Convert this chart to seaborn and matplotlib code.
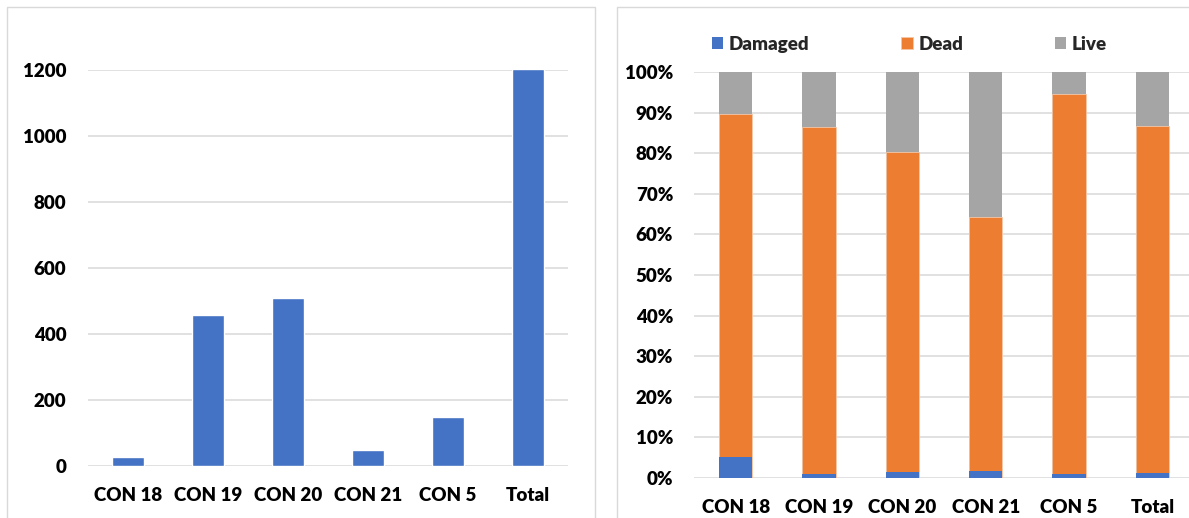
import matplotlib
matplotlib.use("Agg")
import matplotlib.pyplot as plt
from matplotlib.patches import Rectangle
from matplotlib.ticker import PercentFormatter
import numpy as np
import pandas as pd
import seaborn as sns

# Sites and counts
categories = ["CON 18", "CON 19", "CON 20", "CON 21", "CON 5", "Total"]
counts = [28, 457, 510, 50, 150, 1203]

# Share of each condition per site (percent)
damaged = [5.2, 0.9, 1.6, 1.8, 0.9, 1.2]
dead = [84.5, 85.6, 78.7, 62.5, 93.6, 85.5]
live = [10.3, 13.5, 19.7, 35.7, 5.5, 13.3]

left_ticks = [0, 200, 400, 600, 800, 1000, 1200]
right_ticks = list(range(0, 101, 10))

BLUE = "#4472C4"
ORANGE = "#ED7D31"
GRAY = "#A5A5A5"
GRID = "#D9D9D9"
FONT = "Lato"
WEIGHT = "heavy"
FS = 13.5

sns.set_theme(style="white")
plt.rcParams["font.family"] = [FONT, "DejaVu Sans"]
plt.rcParams["font.weight"] = WEIGHT

W, H = 1189, 518
fig = plt.figure(figsize=(W / 100, H / 100), dpi=100)


def px_rect(x0, y0, x1, y1):
    """Axes rect in figure fractions from pixel edges (y measured from top)."""
    return [x0 / W, 1 - y1 / H, (x1 - x0) / W, (y1 - y0) / H]


# Panel frames
for x0, x1 in [(7, 595), (617, 1200)]:
    fig.patches.append(Rectangle((x0 / W, -0.02), (x1 - x0) / W, 1 - 7 / H + 0.02,
                                 transform=fig.transFigure, fill=False,
                                 edgecolor=GRID, linewidth=1.0, zorder=0))

# ---- Left: counts per site ----
ax1 = fig.add_axes(px_rect(88, 70, 568, 466))
df1 = pd.DataFrame({"site": categories, "count": counts})
sns.barplot(data=df1, x="site", y="count", color=BLUE, saturation=1,
            width=0.4, ax=ax1, zorder=3)
for p in ax1.patches:
    p.set_clip_on(False)
ax1.set_ylim(0, 1200)
ax1.set_xlim(-0.5, len(categories) - 0.5)
ax1.set_yticks(left_ticks)
ax1.grid(axis="y", color=GRID, linewidth=1.1, zorder=0)
ax1.set_axisbelow(True)

# ---- Right: condition shares, stacked ----
ax2 = fig.add_axes(px_rect(694, 72, 1194, 478))
dmg = np.array(damaged)
dd = dmg + np.array(dead)
full = dd + np.array(live)
df2 = pd.DataFrame({"site": categories, "Damaged": dmg, "Dead": dd, "Live": full})
for col, c in [("Live", GRAY), ("Dead", ORANGE), ("Damaged", BLUE)]:
    sns.barplot(data=df2, x="site", y=col, color=c, saturation=1, width=0.4,
                ax=ax2, label=col, zorder=3,
                edgecolor="#F4C7A8" if c == ORANGE else "none", linewidth=0.6)
ax2.set_ylim(0, 100)
ax2.set_xlim(-0.5, len(categories) - 0.5)
ax2.set_yticks(right_ticks)
ax2.yaxis.set_major_formatter(PercentFormatter(100, decimals=0))
ax2.grid(axis="y", color=GRID, linewidth=1.1, zorder=0)
ax2.set_axisbelow(True)

handles, labels = ax2.get_legend_handles_labels()
order = [labels.index(n) for n in ["Damaged", "Dead", "Live"]]
leg = ax2.legend([handles[i] for i in order], [labels[i] for i in order],
                 ncol=3, loc="center left",
                 bbox_to_anchor=((712 - 694) / 500, 1 + (72 - 44) / 406),
                 frameon=False, handlelength=0.6, handleheight=0.6,
                 handletextpad=0.3, columnspacing=4.9, borderpad=0, borderaxespad=0,
                 prop={"family": FONT, "weight": WEIGHT, "size": FS})

for ax, pad in [(ax1, 15.5), (ax2, 15)]:
    sns.despine(ax=ax, left=True, bottom=True)
    ax.set_xlabel("")
    ax.set_ylabel("")
    ax.tick_params(axis="both", length=0, labelsize=FS, colors="#000000")
    ax.tick_params(axis="y", pad=pad)
    ax.tick_params(axis="x", pad=15)
    for t in ax.get_xticklabels() + ax.get_yticklabels():
        t.set_fontweight(WEIGHT)
        t.set_family(FONT)

fig.savefig("out.png", dpi=100, facecolor="white")
